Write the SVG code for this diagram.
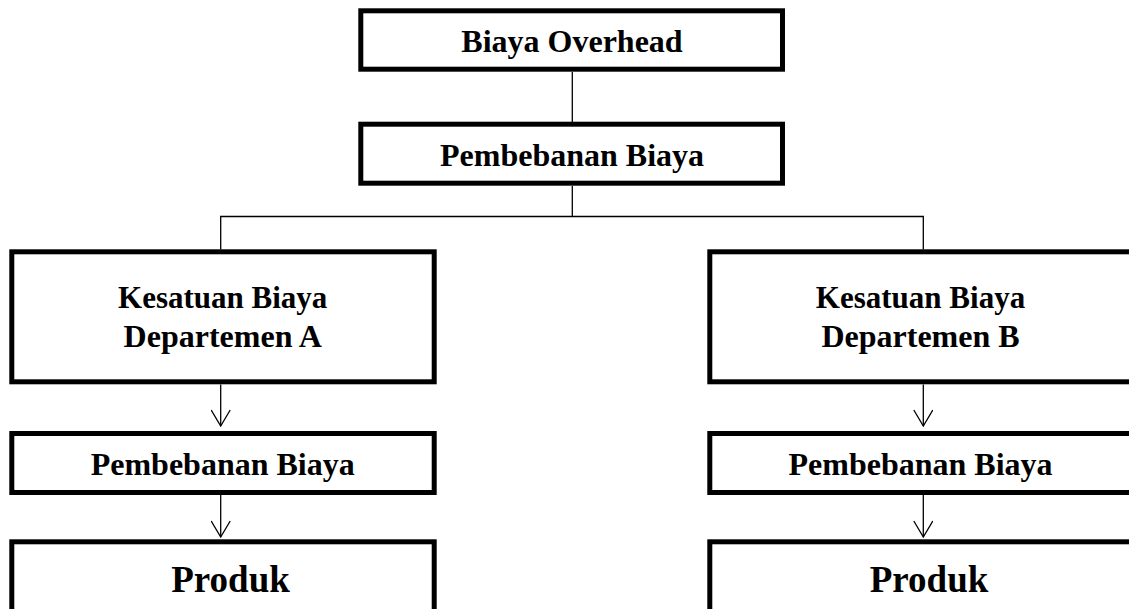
<svg xmlns="http://www.w3.org/2000/svg" width="1129" height="609" viewBox="0 0 1129 609">
<style>
.box{fill:#fff;stroke:#000;stroke-width:5}
.t{font-family:"Liberation Serif","Times New Roman",serif;font-weight:bold;font-size:32px;fill:#000;text-anchor:middle}
.k{font-size:31px}
.big{font-size:37px}
.c{fill:none;stroke:#000;stroke-width:1.3}
</style>
<defs>
<marker id="arr" markerUnits="userSpaceOnUse" markerWidth="24" markerHeight="20" refX="20" refY="10" orient="auto" viewBox="0 0 24 20">
<path d="M4,0.5 L20,10 L4,19.5" fill="none" stroke="#000" stroke-width="1.3"/>
</marker>
</defs>
<rect width="1129" height="609" fill="#fff"/>
<g id="connectors">
<line class="c" x1="572.3" y1="72" x2="572.3" y2="122"/>
<polyline class="c" points="572.3,186 572.3,216.5"/>
<polyline class="c" points="220.7,249.5 220.7,216.5 923.3,216.5 923.3,249.5"/>
<line class="c" x1="220.7" y1="384.5" x2="220.7" y2="426" marker-end="url(#arr)"/>
<line class="c" x1="220.7" y1="495" x2="220.7" y2="537" marker-end="url(#arr)"/>
<line class="c" x1="923.3" y1="384.5" x2="923.3" y2="426" marker-end="url(#arr)"/>
<line class="c" x1="923.3" y1="495" x2="923.3" y2="537" marker-end="url(#arr)"/>
</g>
<g id="overhead">
<rect class="box" x="360.8" y="10.8" width="421.7" height="58.4"/>
<text class="t" x="572" y="52">Biaya Overhead</text>
</g>
<g id="pembebanan-top">
<rect class="box" x="360.8" y="124.2" width="421.7" height="59"/>
<text class="t" x="572" y="165.7">Pembebanan Biaya</text>
</g>
<g id="dept-a">
<rect class="box" x="11.8" y="251.8" width="422.4" height="130"/>
<text class="t k" x="222.7" y="308.3">Kesatuan Biaya</text>
<text class="t" x="222.7" y="346.7">Departemen A</text>
</g>
<g id="dept-b">
<rect class="box" x="709.8" y="251.8" width="500" height="130"/>
<text class="t k" x="920.5" y="308.3">Kesatuan Biaya</text>
<text class="t" x="920.5" y="346.7">Departemen B</text>
</g>
<g id="pembebanan-a">
<rect class="box" x="11.8" y="433.5" width="422.4" height="59"/>
<text class="t" x="222.7" y="475">Pembebanan Biaya</text>
</g>
<g id="pembebanan-b">
<rect class="box" x="709.8" y="433.5" width="500" height="59"/>
<text class="t" x="920.5" y="475">Pembebanan Biaya</text>
</g>
<g id="produk-a">
<rect class="box" x="11.8" y="541.8" width="422.4" height="120"/>
<text class="t big" x="230.5" y="591.7">Produk</text>
</g>
<g id="produk-b">
<rect class="box" x="709.8" y="541.8" width="500" height="120"/>
<text class="t big" x="929" y="591.7">Produk</text>
</g>
</svg>
